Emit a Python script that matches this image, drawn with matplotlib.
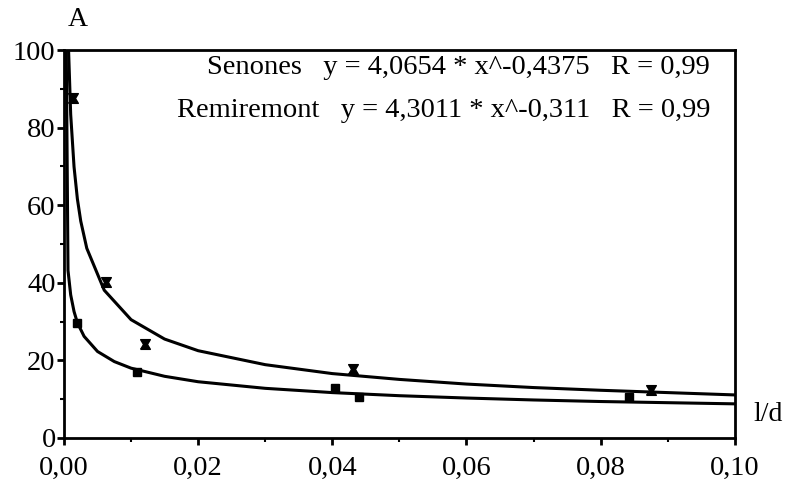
import numpy as np
import matplotlib
matplotlib.use("Agg")
import matplotlib.pyplot as plt
from matplotlib.ticker import MultipleLocator, FuncFormatter

plt.rcParams['font.family'] = ['Liberation Serif', 'DejaVu Serif']

# measured points
senones_x = [0.0013, 0.0063, 0.0121, 0.0431, 0.0875]
senones_y = [87.6, 40.2, 24.2, 17.8, 12.4]
remiremont_x = [0.0019, 0.0109, 0.0404, 0.0440, 0.0843]
remiremont_y = [29.6, 17.0, 12.9, 10.6, 10.6]

# fitted curves
senones_fit_x = [0.0006, 0.001, 0.0015, 0.002, 0.0025, 0.0034, 0.006, 0.01, 0.015,
                 0.02, 0.03, 0.04, 0.05, 0.06, 0.07, 0.08, 0.09, 0.10]
senones_fit_y = [104.5, 83.4, 69.9, 61.6, 55.9, 48.9, 38.1, 30.5, 25.5,
                 22.5, 18.9, 16.6, 15.1, 13.9, 13.0, 12.3, 11.7, 11.1]
remiremont_fit_x = [0.0003, 0.0006, 0.001, 0.0015, 0.002, 0.003, 0.005,
                    0.0075, 0.01, 0.015, 0.02, 0.03, 0.04, 0.05, 0.06, 0.07,
                    0.08, 0.09, 0.10]
remiremont_fit_y = [110, 43.2, 36.9, 32.6, 29.7, 26.2, 22.3,
                    19.7, 18.0, 15.9, 14.5, 12.8, 11.7, 10.9, 10.3, 9.8,
                    9.4, 9.1, 8.8]

legend_lines = ["Senones   y = 4,0654 * x^-0,4375   R = 0,99",
                "Remiremont   y = 4,3011 * x^-0,311   R = 0,99"]

fig = plt.figure(figsize=(7.85, 4.86), dpi=100)
ax = fig.add_axes([0.0815, 0.0988, 0.8545, 0.7982])

ax.plot(senones_fit_x, senones_fit_y, color='black', lw=2.2)
ax.plot(remiremont_fit_x, remiremont_fit_y, color='black', lw=2.2)

# hourglass marker for Senones
hourglass = [(-1, -1), (1, -1), (0.4, 0), (1, 1), (-1, 1), (-0.4, 0), (-1, -1)]
ax.plot(senones_x, senones_y, ls='none', marker=hourglass, ms=7, color='black')
ax.plot(remiremont_x, remiremont_y, ls='none', marker='s', ms=6, color='black')

ax.set_xlim(0, 0.10)
ax.set_ylim(0, 100)
ax.xaxis.set_major_locator(MultipleLocator(0.02))
ax.xaxis.set_minor_locator(MultipleLocator(0.01))
ax.yaxis.set_major_locator(MultipleLocator(20))
ax.yaxis.set_minor_locator(MultipleLocator(10))
ax.xaxis.set_major_formatter(FuncFormatter(lambda v, p: f"{v:.2f}".replace('.', ',')))
ax.yaxis.set_major_formatter(FuncFormatter(lambda v, p: f"{v:.0f}"))
ax.tick_params(which='major', direction='out', length=5, width=2, labelsize=20.5, pad=1)
ax.tick_params(axis='x', which='major', pad=8)
ax.tick_params(which='minor', direction='out', length=3, width=1.5)
ax.tick_params(top=False, right=False)
for s in ax.spines.values():
    s.set_linewidth(2)

ax.text(0.963, 0.955, legend_lines[0], transform=ax.transAxes, ha='right', va='center', fontsize=20.5)
ax.text(0.963, 0.845, legend_lines[1], transform=ax.transAxes, ha='right', va='center', fontsize=20.5)

fig.text(78 / 785, 1 - 20 / 486, "A", ha='center', va='center', fontsize=20)
fig.text(768 / 785, 1 - 414 / 486, "l/d", ha='center', va='center', fontsize=20)

fig.savefig("out.png", dpi=100)
